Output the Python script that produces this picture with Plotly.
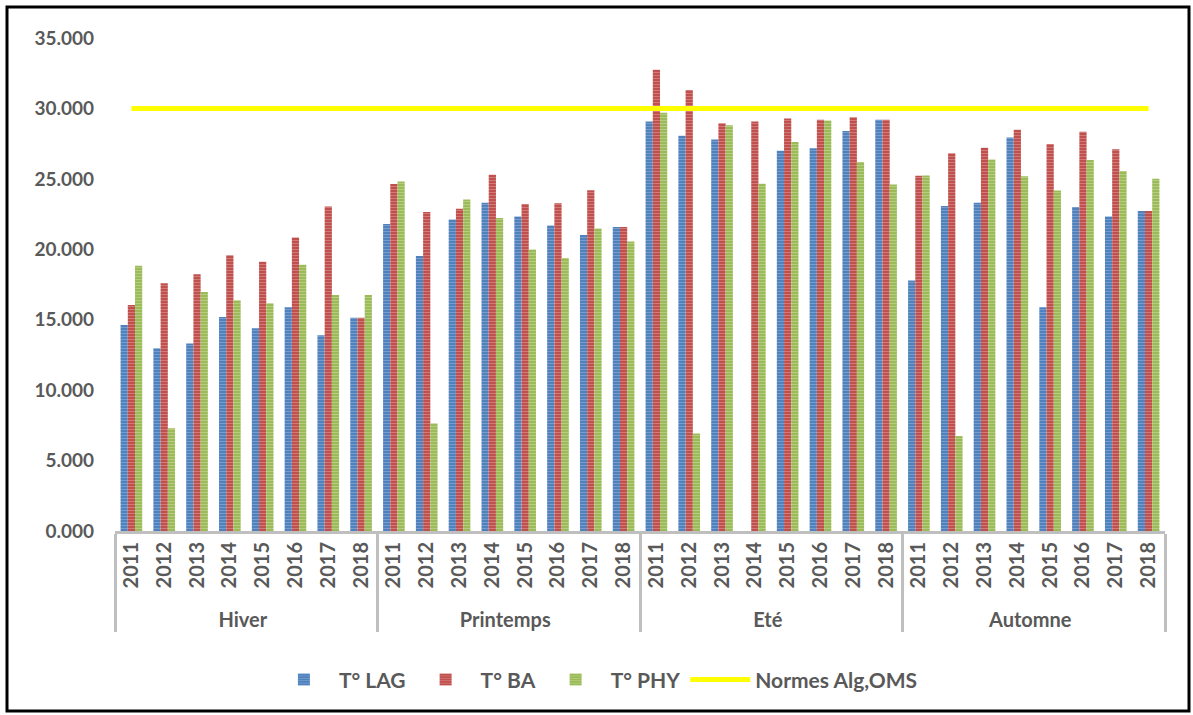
import plotly.graph_objects as go

seasons = ["Hiver", "Printemps", "Eté", "Automne"]
years = ["2011", "2012", "2013", "2014", "2015", "2016", "2017", "2018"]

t_lag = [
    14.62, 12.97, 13.32, 15.19, 14.39, 15.88, 13.89, 15.14,   # Hiver
    21.79, 19.52, 22.12, 23.30, 22.33, 21.69, 21.01, 21.58,   # Printemps
    29.08, 28.06, 27.80, None, 26.99, 27.18, 28.39, 29.19,    # Eté
    17.79, 23.07, 23.30, 27.94, 15.88, 23.00, 22.33, 22.71,   # Automne
]
t_ba = [
    16.04, 17.58, 18.22, 19.57, 19.12, 20.84, 23.04, 15.14,
    24.63, 22.64, 22.88, 25.29, 23.21, 23.26, 24.20, 21.58,
    32.74, 31.30, 28.94, 29.08, 29.29, 29.19, 29.38, 29.19,
    25.22, 26.81, 27.21, 28.48, 27.47, 28.34, 27.11, 22.71,
]
t_phy = [
    18.83, 7.29, 16.96, 16.39, 16.16, 18.90, 16.75, 16.75,
    24.82, 7.64, 23.54, 22.22, 19.99, 19.38, 21.48, 20.56,
    29.69, 6.93, 28.80, 24.65, 27.61, 29.15, 26.19, 24.60,
    25.24, 6.74, 26.38, 25.19, 24.18, 26.33, 25.55, 25.00,
]
norme_value = 30.0
norme = [norme_value] * (len(seasons) * len(years))

x_outer = [s for s in seasons for _ in years]
x_inner = [y for _ in seasons for y in years]
x = [x_outer, x_inner]

FONT = "Lato"
GRAY = "#595959"

fig = go.Figure()

def bar(name, vals, color, fg):
    fig.add_trace(go.Bar(
        name=name, x=x, y=vals,
        marker=dict(color=color, line=dict(width=0),
                    pattern=dict(shape="-", fgcolor=fg, size=3, solidity=0.35)),
    ))

bar("T° LAG", t_lag, "#4F81BD", "#9DB9DD")
bar("T° BA", t_ba, "#C0504D", "#E3A3A1")
bar("T° PHY", t_phy, "#9BBB59", "#CFE0A8")

fig.add_trace(go.Scatter(
    name="Normes Alg,OMS", x=x, y=norme, mode="lines",
    line=dict(color="#FFFF00", width=5),
))

fig.update_layout(
    width=1193, height=715,
    paper_bgcolor="white", plot_bgcolor="white",
    margin=dict(l=115, r=28, t=38, b=184),
    barmode="group", bargap=0.34, bargroupgap=0.0,
    font=dict(family=FONT, color=GRAY, size=15),
    showlegend=True,
    legend=dict(orientation="h", x=0.458, xanchor="center", y=-0.302, yanchor="middle",
                font=dict(family=FONT, size=21, color=GRAY, weight="bold"),
                itemwidth=60, traceorder="normal"),
    xaxis=dict(
        type="multicategory", tickangle=-90,
        tickfont=dict(family=FONT, size=20, color=GRAY, weight="bold"),
        showline=True, linecolor="#BFBFBF", linewidth=3,
        showdividers=True, dividercolor="#BFBFBF", dividerwidth=3,
        ticks="", showgrid=False,
    ),
    yaxis=dict(
        range=[0, 35], dtick=5, tickformat=".3f",
        tickfont=dict(family=FONT, size=19, color=GRAY, weight="bold"),
        showgrid=False, zeroline=False, showline=False, ticks="",
        ticklabelstandoff=20,
    ),
    shapes=[dict(type="rect", xref="paper", yref="paper",
                 x0=(7 - 115) / 1050, x1=(1189 - 115) / 1050,
                 y0=(531 - 711) / 493, y1=(531 - 7) / 493,
                 line=dict(color="black", width=3), fillcolor="rgba(0,0,0,0)", layer="below")],
)

fig.write_html("out.html")
